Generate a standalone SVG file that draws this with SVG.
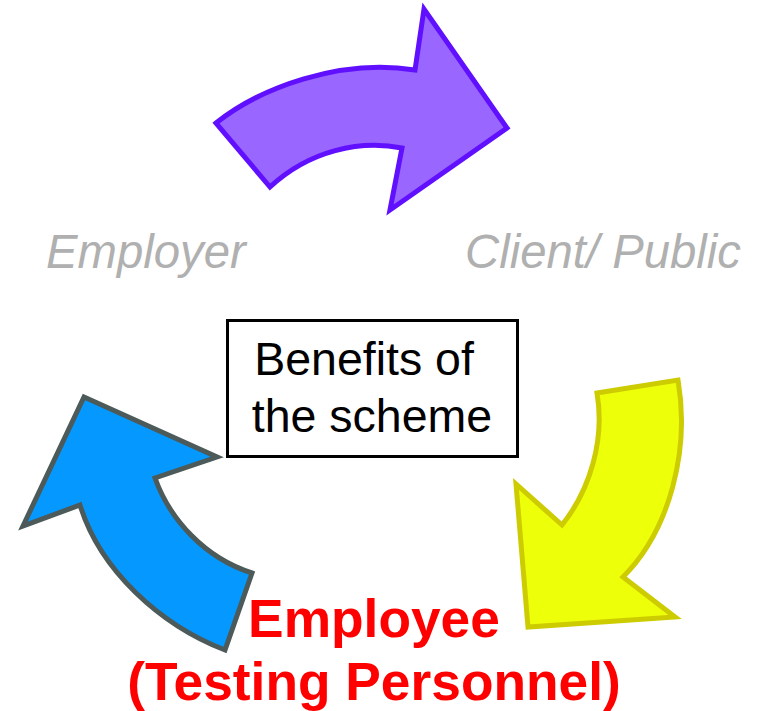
<svg xmlns="http://www.w3.org/2000/svg" width="757" height="711" viewBox="0 0 757 711">
<style>
.arrow{stroke-width:5;stroke-linejoin:miter}
.lbl{font-family:"Liberation Sans",Arial,sans-serif;font-style:italic;font-size:47.3px;fill:#b0b0b0}
.box{font-family:"Liberation Sans",Arial,sans-serif;font-size:46.5px;fill:#000;text-anchor:middle}
.emp{font-family:"Liberation Sans",Arial,sans-serif;font-weight:bold;font-size:53.3px;fill:#ff0000;text-anchor:middle}
</style>
<rect width="757" height="711" fill="#fff"/>
<g id="connectors">
<path id="arrow-top" class="arrow" fill="#9966ff" stroke="#6010ff" d="M216,123 C260,88 340,58 415,70 L424,9 L507,128 L390,210 L402,148 C360,140 310,150 270,187 Z"/>
<path id="arrow-right" class="arrow" fill="#eeff0a" stroke="#cccc00" d="M597,393 L678,380 C690,450 670,530 623,577 L675,617 L528,627 L516,484 L562,525 C590,490 605,440 597,393 Z"/>
<path id="arrow-left" class="arrow" fill="#0599ff" stroke="#4d5a5a" d="M252,573 L225,650 C160,625 100,570 80,505 L23,526 L84,397 L217,457 L155,478 C170,520 205,558 252,573 Z"/>
</g>
<g id="employer"><text class="lbl" x="46" y="268">Employer</text></g>
<g id="client"><text class="lbl" x="465" y="268">Client/ Public</text></g>
<g id="benefits">
<rect x="227.5" y="320.5" width="290" height="136" fill="#fff" stroke="#000" stroke-width="3"/>
<text class="box" x="364" y="375">Benefits of</text>
<text class="box" x="372" y="432">the scheme</text>
</g>
<g id="employee">
<text class="emp" x="374" y="637">Employee</text>
<text class="emp" x="374" y="700">(Testing Personnel)</text>
</g>
</svg>
